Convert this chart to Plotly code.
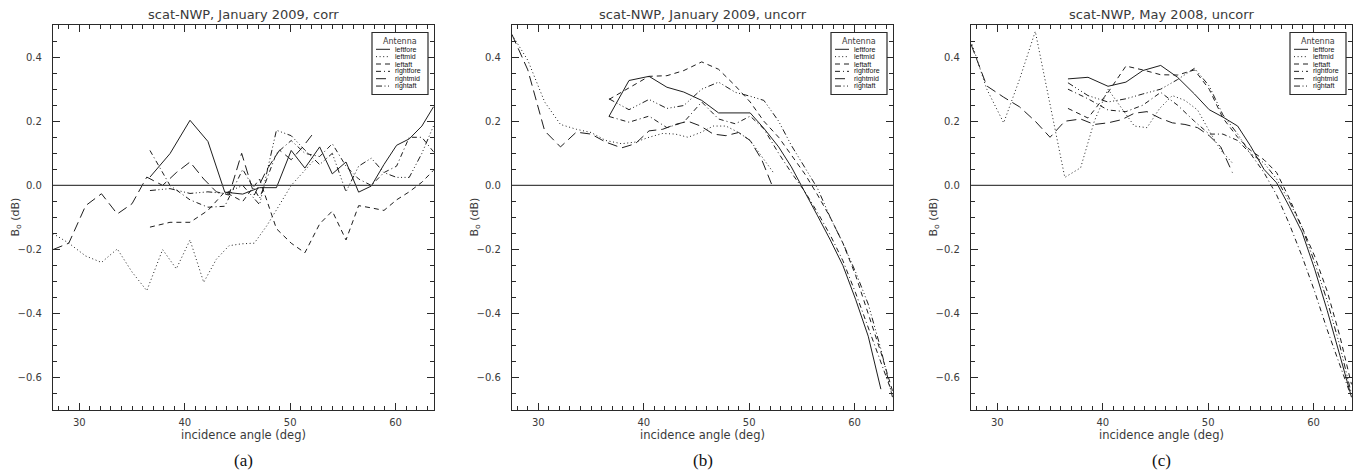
import plotly.graph_objects as go

# ---------------- data ----------------
X_FOREAFT = [36.7, 38.6, 40.5, 42.2, 43.8, 45.5, 47.1, 48.7, 50.1, 51.4,
             52.8, 54.0, 55.3, 56.5, 57.7, 58.9, 60.1, 61.3, 62.5, 63.6]
X_MID = [27.5, 29.0, 30.6, 32.1, 33.6, 35.0, 36.4, 37.9, 39.2, 40.5,
         41.8, 43.0, 44.2, 45.4, 46.6, 47.8, 49.0, 50.1, 51.2, 52.3]

ANTENNAS = ["leftfore", "leftmid", "leftaft", "rightfore", "rightmid", "rightaft"]
MID_BEAMS = ["leftmid", "rightmid"]

PANEL_TITLES = ["scat-NWP, January 2009, corr",
                "scat-NWP, January 2009, uncorr",
                "scat-NWP, May 2008, uncorr"]
PANEL_LABELS = ["(a)", "(b)", "(c)"]
X_TITLE = "incidence angle (deg)"
Y_TITLE = "B<sub>o</sub> (dB)"

# panel (a)  January 2009, corrected
A_LEFTFORE = [0.026, 0.099, 0.203, 0.137, -0.021, -0.027, -0.007, -0.007, 0.109, 0.054,
              0.120, 0.036, 0.073, -0.021, -0.002, 0.065, 0.125, 0.145, 0.185, 0.245]
A_LEFTMID = [-0.150, -0.180, -0.220, -0.240, -0.198, -0.270, -0.328, -0.200, -0.260, -0.170,
             -0.302, -0.230, -0.188, -0.182, -0.180, -0.125, -0.060, 0.000, 0.040, 0.080]
A_LEFTAFT = [-0.130, -0.115, -0.115, -0.078, -0.020, -0.050, 0.020, -0.135, -0.180, -0.210,
             -0.120, -0.080, -0.170, -0.063, -0.070, -0.078, -0.045, -0.020, 0.010, 0.047]
A_RIGHTFORE = [0.109, 0.000, -0.045, -0.068, -0.065, 0.050, -0.040, 0.100, 0.140, 0.100,
               0.090, 0.130, 0.060, 0.020, 0.000, 0.040, 0.060, 0.150, 0.150, 0.105]
A_RIGHTMID = [-0.200, -0.180, -0.063, -0.026, -0.089, -0.057, 0.026, 0.000, 0.040, 0.073,
              0.020, -0.020, -0.030, 0.100, -0.030, 0.050, 0.110, 0.080, 0.120, 0.167]
A_RIGHTAFT = [-0.016, -0.010, -0.025, -0.020, -0.025, 0.000, -0.060, 0.172, 0.155, 0.110,
              0.065, 0.100, -0.020, 0.060, 0.085, 0.040, 0.025, 0.025, 0.100, 0.185]

# panel (b)  January 2009, uncorrected
B_LEFTFORE = [0.215, 0.327, 0.340, 0.306, 0.291, 0.265, 0.226, 0.226, 0.226, 0.178,
              0.120, 0.058, -0.020, -0.095, -0.170, -0.250, -0.355, -0.470, -0.635, None]
B_LEFTMID = [0.470, 0.390, 0.260, 0.190, 0.175, 0.165, 0.140, 0.130, 0.135, 0.150,
             0.162, 0.160, 0.150, 0.165, 0.185, 0.185, 0.165, 0.140, 0.090, 0.040]
B_LEFTAFT = [0.268, 0.305, 0.340, 0.342, 0.358, 0.385, 0.362, 0.310, 0.260, 0.200,
             0.150, 0.095, 0.035, -0.030, -0.100, -0.180, -0.280, -0.400, -0.520, -0.640]
B_RIGHTFORE = [0.215, 0.197, 0.216, 0.180, 0.197, 0.260, 0.207, 0.192, 0.216, 0.176,
               0.100, 0.040, -0.020, -0.085, -0.155, -0.235, -0.335, -0.445, -0.555, -0.650]
B_RIGHTMID = [0.470, 0.360, 0.170, 0.120, 0.166, 0.160, 0.135, 0.117, 0.130, 0.170,
              0.175, 0.190, 0.200, 0.185, 0.160, 0.155, 0.165, 0.140, 0.080, -0.010]
B_RIGHTAFT = [0.270, 0.236, 0.268, 0.240, 0.249, 0.300, 0.322, 0.290, 0.278, 0.265,
              0.200, 0.125, 0.055, -0.010, -0.100, -0.180, -0.270, -0.370, -0.510, -0.660]

# panel (c)  May 2008, uncorrected
C_LEFTFORE = [0.332, 0.337, 0.309, 0.322, 0.358, 0.374, 0.337, 0.285, 0.236, 0.213,
              0.185, 0.124, 0.050, 0.008, -0.066, -0.145, -0.260, -0.390, -0.530, -0.660]
C_LEFTMID = [0.450, 0.300, 0.195, 0.330, 0.480, 0.250, 0.025, 0.055, 0.200, 0.300,
             0.240, 0.185, 0.180, 0.240, 0.280, 0.265, 0.235, 0.170, 0.110, 0.070]
C_LEFTAFT = [0.240, 0.210, 0.290, 0.372, 0.360, 0.345, 0.344, 0.360, 0.300, 0.210,
             0.150, 0.110, 0.080, 0.040, -0.040, -0.130, -0.220, -0.330, -0.470, -0.620]
C_RIGHTFORE = [0.300, 0.270, 0.235, 0.230, 0.250, 0.290, 0.250, 0.200, 0.160, 0.160,
               0.140, 0.100, 0.040, -0.030, -0.120, -0.220, -0.330, -0.450, -0.560, -0.660]
C_RIGHTMID = [0.440, 0.310, 0.275, 0.245, 0.200, 0.150, 0.200, 0.207, 0.190, 0.195,
              0.205, 0.225, 0.230, 0.210, 0.195, 0.190, 0.180, 0.155, 0.120, 0.040]
C_RIGHTAFT = [0.320, 0.280, 0.260, 0.270, 0.285, 0.300, 0.330, 0.365, 0.310, 0.220,
              0.160, 0.100, 0.070, 0.020, -0.050, -0.130, -0.240, -0.360, -0.500, -0.650]

PANELS = [
    [A_LEFTFORE, A_LEFTMID, A_LEFTAFT, A_RIGHTFORE, A_RIGHTMID, A_RIGHTAFT],
    [B_LEFTFORE, B_LEFTMID, B_LEFTAFT, B_RIGHTFORE, B_RIGHTMID, B_RIGHTAFT],
    [C_LEFTFORE, C_LEFTMID, C_LEFTAFT, C_RIGHTFORE, C_RIGHTMID, C_RIGHTAFT],
]

X_RANGE = [27.5, 63.65]
Y_RANGE = [-0.7, 0.5]

# ---------------- styling ----------------
W, H = 1358, 471
LINE_COLOR = "#1e1e1e"
TEXT_COLOR = "#3a3a3a"
DASHES = {
    "leftfore": "solid",
    "leftmid": "1px,2.6px",
    "leftaft": "5px,4px",
    "rightfore": "5px,3px,1px,3px",
    "rightmid": "10px,5px",
    "rightaft": "6px,2.5px,1px,2.5px,1px,2.5px,1px,2.5px",
}
# plot-area pixel boxes (left, right) and common top/bottom
PANEL_PX = [(53, 434), (512, 893), (971, 1352)]
TOP_PX, BOT_PX = 25, 410
PW = 381.0
PH = float(BOT_PX - TOP_PX)

fig = go.Figure()
layout = dict(
    width=W, height=H,
    margin=dict(l=0, r=0, t=0, b=0),
    paper_bgcolor="white", plot_bgcolor="white",
    showlegend=False,
    font=dict(family="DejaVu Sans", size=10, color=TEXT_COLOR),
)
shapes = []
annotations = []


def fx(dx):
    return 1 + dx / PW


def fy(dy):
    return 1 - dy / PH


for p, (series_list, (lpx, rpx)) in enumerate(zip(PANELS, PANEL_PX)):
    sfx = "" if p == 0 else str(p + 1)
    xa, ya = "x" + sfx, "y" + sfx
    for name, vals in zip(ANTENNAS, series_list):
        xs = X_MID if name in MID_BEAMS else X_FOREAFT
        fig.add_trace(go.Scatter(
            x=xs, y=vals, mode="lines", name=name, xaxis=xa, yaxis=ya,
            line=dict(color=LINE_COLOR, width=1, dash=DASHES[name]),
            connectgaps=False, showlegend=False, hoverinfo="skip",
        ))

    axis_common = dict(
        showgrid=False, zeroline=False, showline=True, linecolor="#2a2a2a",
        linewidth=1.3, mirror="allticks", ticks="inside", tickcolor="#2a2a2a",
        tickwidth=1, ticklen=7, automargin=False,
        tickfont=dict(family="DejaVu Sans", size=10, color=TEXT_COLOR),
    )
    layout["xaxis" + sfx] = dict(
        axis_common, domain=[lpx / W, rpx / W], range=X_RANGE,
        tick0=0, dtick=10, anchor=ya,
        minor=dict(ticks="inside", dtick=1, tick0=0, ticklen=4, tickcolor="#2a2a2a", tickwidth=1),
        ticklabelstandoff=3,
        title=dict(text=X_TITLE, standoff=3,
                   font=dict(family="DejaVu Sans", size=11.5, color=TEXT_COLOR)),
    )
    layout["yaxis" + sfx] = dict(
        axis_common, domain=[1 - BOT_PX / H, 1 - TOP_PX / H], range=Y_RANGE,
        tick0=0, dtick=0.2, tickformat=".1f", anchor=xa,
        minor=dict(ticks="inside", dtick=0.05, tick0=0, ticklen=4, tickcolor="#2a2a2a", tickwidth=1),
        ticklabelstandoff=8,
    )

    xd, yd = xa + " domain", ya + " domain"
    # zero reference line
    shapes.append(dict(type="line", xref=xd, yref=ya, x0=0, x1=1, y0=0, y1=0,
                       line=dict(color="#444444", width=1.2)))

    # y title, panel title and caption
    annotations.append(dict(text=Y_TITLE, xref=xd, yref=yd, x=0, y=0.5,
                            xshift=-38, showarrow=False, textangle=-90,
                            xanchor="center", yanchor="middle",
                            font=dict(family="DejaVu Sans", size=11, color=TEXT_COLOR)))
    annotations.append(dict(text=PANEL_TITLES[p], xref=xd, yref=yd, x=0.5, y=1,
                            yshift=10, showarrow=False, yanchor="middle",
                            font=dict(family="DejaVu Sans", size=13, color=TEXT_COLOR)))
    annotations.append(dict(text=PANEL_LABELS[p], xref=xd, yref=yd, x=0.5, y=0,
                            yshift=-50, showarrow=False, yanchor="middle",
                            font=dict(family="Liberation Serif", size=17, color="#111111")))

    # legend box drawn inside the top-right corner
    shapes.append(dict(type="rect", xref=xd, yref=yd,
                       x0=fx(-62), x1=fx(-6), y0=fy(69.5), y1=fy(7.5),
                       line=dict(color="#2a2a2a", width=1.2), fillcolor="white", layer="above"))
    annotations.append(dict(text="Antenna", xref=xd, yref=yd, x=fx(-34), y=fy(16),
                            showarrow=False, xanchor="center", yanchor="middle",
                            font=dict(family="DejaVu Sans", size=8, color=TEXT_COLOR)))
    for i, name in enumerate(ANTENNAS):
        ey = 24.3 + i * 7.35
        shapes.append(dict(type="line", xref=xd, yref=yd, x0=fx(-58), x1=fx(-44),
                           y0=fy(ey), y1=fy(ey), layer="above",
                           line=dict(color=LINE_COLOR, width=1, dash=DASHES[name])))
        annotations.append(dict(text=name, xref=xd, yref=yd, x=fx(-41.5), y=fy(ey),
                                showarrow=False, xanchor="left", yanchor="middle",
                                font=dict(family="Liberation Sans", size=7, color="#111111")))

layout["shapes"] = shapes
layout["annotations"] = annotations
fig.update_layout(**layout)

fig.write_html(
    "out.html",
    config={"displayModeBar": False},
    post_script="document.body.style.margin='0px';document.body.style.overflow='hidden';",
)
